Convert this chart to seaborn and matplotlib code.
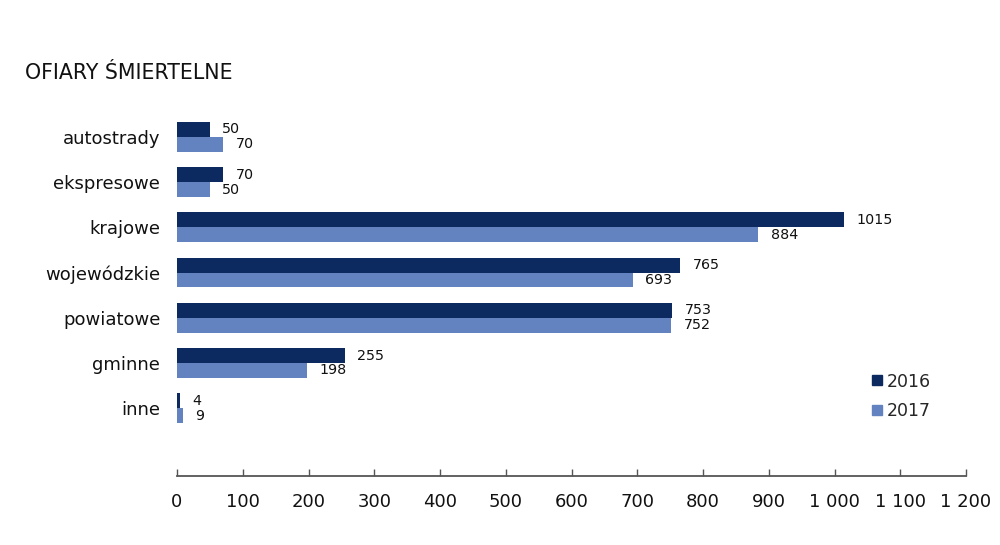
import os
import matplotlib
matplotlib.use("Agg")
import matplotlib.pyplot as plt
import seaborn as sns
import pandas as pd
from matplotlib.ticker import FuncFormatter
from matplotlib.lines import Line2D

categories = ["autostrady", "ekspresowe", "krajowe", "wojewódzkie", "powiatowe", "gminne", "inne"]
values_2016 = [50, 70, 1015, 765, 753, 255, 4]
values_2017 = [70, 50, 884, 693, 752, 198, 9]
years = ["2016", "2017"]
colors = ["#0c2a5f", "#6283bf"]

df = pd.DataFrame({
    "kategoria": categories * 2,
    "rok": [years[0]] * len(categories) + [years[1]] * len(categories),
    "wartosc": values_2016 + values_2017,
})

sns.set_style("white")
FAM = "DejaVu Sans"
plt.rcParams["font.family"] = [FAM]

fig = plt.figure(figsize=(10, 5.45), dpi=100)
ax = fig.add_axes([0.177, 0.1266, 0.789, 0.6844])

sns.barplot(data=df, y="kategoria", x="wartosc", hue="rok", order=categories,
            hue_order=years, palette=colors, orient="h", width=0.66,
            ax=ax, legend=False, saturation=1, linewidth=0)

for cont in ax.containers:
    ax.bar_label(cont, labels=[f"{int(v)}" for v in cont.datavalues],
                 padding=9, fontsize=10.3, color="#111111")

ax.set_xlim(0, 1200)
ax.set_ylim(7.5, -0.75)
ax.set_xticks(range(0, 1201, 100))
ax.xaxis.set_major_formatter(FuncFormatter(lambda v, p: f"{int(v):,}".replace(",", " ")))
ax.tick_params(axis="x", bottom=True, direction="in", length=5, width=1, color="#555555",
               labelsize=13, labelcolor="#111111", pad=12)
ax.tick_params(axis="y", left=False, length=0, labelsize=13, labelcolor="#111111", pad=12)
ax.set_xlabel("")
ax.set_ylabel("")
for s in ["top", "right", "left"]:
    ax.spines[s].set_visible(False)
ax.spines["bottom"].set_color("#555555")
ax.spines["bottom"].set_linewidth(1.3)

fig.text(0.025, 0.866, "OFIARY ŚMIERTELNE", fontsize=14.8, color="#111111", va="center")

handles = [Line2D([], [], marker="s", linestyle="none", markersize=7,
                  markerfacecolor=c, markeredgecolor=c) for c in colors]
fig.legend(handles, years, loc="center left", bbox_to_anchor=(0.853, 0.273),
           frameon=False, fontsize=12.5, handletextpad=0.05, labelspacing=0.65,
           handlelength=1.0)

fig.savefig("out.png", dpi=100)
